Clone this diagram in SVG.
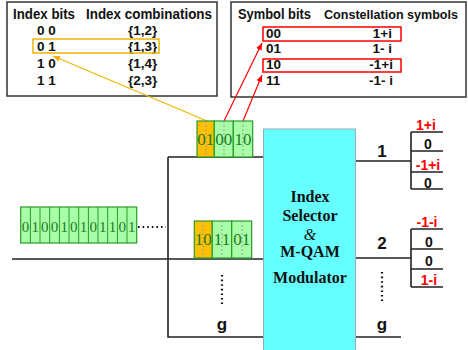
<svg xmlns="http://www.w3.org/2000/svg" width="468" height="350" viewBox="0 0 468 350">
<style>
.tb{fill:#fff;stroke:#333;stroke-width:1.5}
.th{font-family:"Liberation Sans",Arial,sans-serif;font-weight:bold;font-size:13.5px;fill:#111}
.hd{font-family:"Liberation Sans",Arial,sans-serif;font-weight:bold;font-size:14.5px;fill:#111}
.ln{stroke:#222;stroke-width:1.6;fill:none}
.g{fill:#a8ffa8;stroke:#2a9a2a;stroke-width:1.2}
.o{fill:#ffc000;stroke:#2a9a2a;stroke-width:1.2}
.dl{stroke:#999;stroke-width:1;stroke-dasharray:2 2}
.bt{font-family:"Liberation Serif","Times New Roman",serif;font-size:17px;fill:#1e7a1e;text-anchor:middle}
.bs{font-family:"Liberation Serif","Times New Roman",serif;font-size:15px;fill:#1e7a1e;text-anchor:middle}
.bx{font-family:"Liberation Serif","Times New Roman",serif;font-weight:bold;font-size:16px;fill:#111;text-anchor:middle}
.lb{font-family:"Liberation Sans",Arial,sans-serif;font-weight:bold;font-size:17px;fill:#111;text-anchor:middle}
.sv{font-family:"Liberation Sans",Arial,sans-serif;font-weight:bold;font-size:14px;text-anchor:middle}
.dot{stroke:#111;stroke-width:2.2;stroke-dasharray:1.6 3;fill:none}
</style>
<defs>
<marker id="ay" markerWidth="8" markerHeight="8" refX="7" refY="4" orient="auto" markerUnits="userSpaceOnUse"><path d="M0,1 L7,4 L0,7 z" fill="#f0b400"/></marker>
<marker id="ar" markerWidth="8" markerHeight="8" refX="7" refY="4" orient="auto" markerUnits="userSpaceOnUse"><path d="M0,1 L7,4 L0,7 z" fill="#f00"/></marker>
</defs>

<g id="index-table">
<rect class="tb" x="7" y="2" width="210" height="94"/>
<text class="hd" x="13" y="19" textLength="62" lengthAdjust="spacingAndGlyphs">Index bits</text>
<text class="hd" x="86" y="19" textLength="126" lengthAdjust="spacingAndGlyphs">Index combinations</text>
<text class="th" x="37" y="35">0 0</text><text class="th" x="128" y="35">{1,2}</text>
<text class="th" x="37" y="51">0 1</text><text class="th" x="128" y="51">{1,3}</text>
<text class="th" x="37" y="68">1 0</text><text class="th" x="128" y="68">{1,4}</text>
<text class="th" x="37" y="85">1 1</text><text class="th" x="128" y="85">{2,3}</text>
<rect x="33" y="39" width="126" height="14" fill="none" stroke="#f0b400" stroke-width="1.5"/>
</g>

<g id="symbol-table">
<rect class="tb" x="231" y="2" width="235" height="95"/>
<text class="hd" x="238" y="19" textLength="73" lengthAdjust="spacingAndGlyphs">Symbol bits</text>
<text class="hd" x="324" y="19" font-size="12.6" textLength="134" lengthAdjust="spacingAndGlyphs" style="font-size:12.6px">Constellation symbols</text>
<text class="th" x="266" y="38">00</text><text class="th" x="392" y="38" text-anchor="end">1+i</text>
<text class="th" x="266" y="53">01</text><text class="th" x="392" y="53" text-anchor="end">1- i</text>
<text class="th" x="266" y="69">10</text><text class="th" x="393" y="69" text-anchor="end">-1+i</text>
<text class="th" x="266" y="85">11</text><text class="th" x="393" y="85" text-anchor="end">-1- i</text>
<rect x="263" y="27" width="138" height="14" fill="none" stroke="#f00" stroke-width="1.5"/>
<rect x="263" y="59" width="138" height="13" fill="none" stroke="#f00" stroke-width="1.5"/>
</g>

<g id="connectors">
<path class="ln" d="M168,157 H263 M168,157 V337 H263 M12,259 H263"/>
<path class="ln" d="M355,161 H411 M411,132 V189 M411,132 H443 M411,151 H443 M411,172 H443 M411,189 H443"/>
<path class="ln" d="M355,258 H411 M411,229 V287 M411,229 H443 M411,249 H443 M411,269 H443 M411,287 H443"/>
<path class="ln" d="M355,337 H401"/>
<path class="dot" d="M138,227 H166"/>
<path class="dot" d="M222,275 V304"/>
<path class="dot" d="M382,272 V301"/>
<line x1="207" y1="121" x2="53" y2="56" stroke="#f0b400" stroke-width="1.2" marker-end="url(#ay)"/>
<line x1="224" y1="121" x2="262" y2="43" stroke="#f00" stroke-width="1.2" marker-end="url(#ar)"/>
<line x1="243" y1="121" x2="262" y2="75" stroke="#f00" stroke-width="1.2" marker-end="url(#ar)"/>
</g>

<g id="input-bits">
<rect class="g" x="20.7" y="207" width="116" height="36"/>
<g stroke="#2a9a2a" stroke-width="1">
<path d="M30.4,207V243M40,207V243M49.7,207V243M59.4,207V243M69,207V243M78.7,207V243M88.4,207V243M98,207V243M107.7,207V243M117.4,207V243M127,207V243"/>
</g>
<text class="bs" y="232"><tspan x="25.5">0</tspan><tspan x="35.2">1</tspan><tspan x="44.8">0</tspan><tspan x="54.5">0</tspan><tspan x="64.2">1</tspan><tspan x="73.8">0</tspan><tspan x="83.5">1</tspan><tspan x="93.2">0</tspan><tspan x="102.8">1</tspan><tspan x="112.5">1</tspan><tspan x="122.2">0</tspan><tspan x="131.8">1</tspan></text>
</g>

<g id="group1-bits">
<rect class="o" x="197" y="121" width="17.3" height="36"/>
<rect class="g" x="214.3" y="121" width="19" height="36"/>
<rect class="g" x="233.3" y="121" width="19.4" height="36"/>
<path class="dl" d="M206,121V157M224,121V157M243,121V157"/>
<text class="bt" x="205.7" y="145">01</text>
<text class="bt" x="223.8" y="145">00</text>
<text class="bt" x="243" y="145">10</text>
</g>

<g id="group2-bits">
<rect class="o" x="194.3" y="221" width="18" height="37"/>
<rect class="g" x="212.3" y="221" width="19.4" height="37"/>
<rect class="g" x="231.7" y="221" width="20" height="37"/>
<path class="dl" d="M203,221V258M222,221V258M242,221V258"/>
<text class="bt" x="203.3" y="245">10</text>
<text class="bt" x="222" y="245">11</text>
<text class="bt" x="241.7" y="245">01</text>
</g>

<g id="modulator">
<rect x="263.5" y="129" width="92" height="225" fill="#66ffff" stroke="#9ab" stroke-width="1"/>
<text class="bx" x="310" y="202">Index</text>
<text class="bx" x="310" y="221">Selector</text>
<text x="310" y="240" font-family="Liberation Serif,serif" font-style="italic" font-size="16" fill="#111" text-anchor="middle">&amp;</text>
<text class="bx" x="310" y="257">M-QAM</text>
<text class="bx" x="310" y="283">Modulator</text>
</g>

<g id="labels">
<text class="lb" x="382" y="157">1</text>
<text class="lb" x="382" y="249">2</text>
<text class="lb" x="382" y="330">g</text>
<text class="lb" x="222" y="330">g</text>
</g>

<g id="output1">
<text class="sv" x="426" y="130" fill="#f00">1+i</text>
<text class="sv" x="428" y="149" fill="#111">0</text>
<text class="sv" x="428" y="170" fill="#f00">-1+i</text>
<text class="sv" x="428" y="188" fill="#111">0</text>
</g>

<g id="output2">
<text class="sv" x="427" y="227" fill="#f00">-1-i</text>
<text class="sv" x="429" y="247" fill="#111">0</text>
<text class="sv" x="429" y="266" fill="#111">0</text>
<text class="sv" x="429" y="285" fill="#f00">1-i</text>
</g>
</svg>
